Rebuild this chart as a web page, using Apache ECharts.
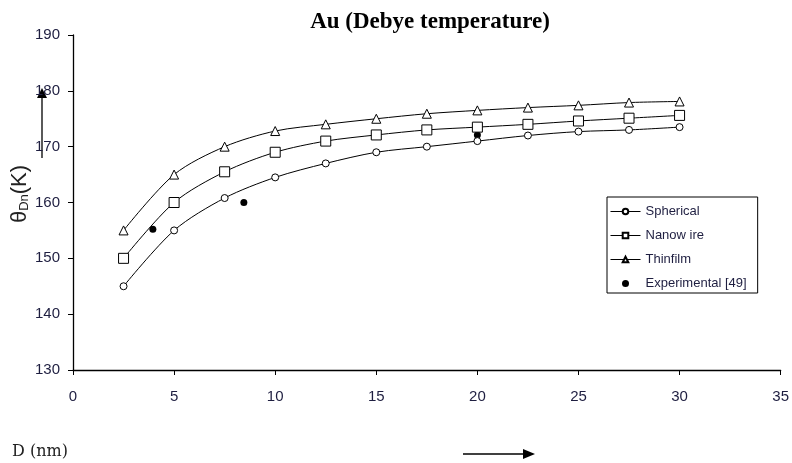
<!DOCTYPE html>
<html><head><meta charset="utf-8">
<script src="https://cdn.jsdelivr.net/npm/echarts@6/dist/echarts.min.js"></script>
<style>html,body{margin:0;padding:0;background:#fff}#c{width:792px;height:463px}</style>
</head><body><div id="c"></div>
<script>
const xValues = [2.5, 5, 7.5, 10, 12.5, 15, 17.5, 20, 22.5, 25, 27.5, 30];
const spherical = [145, 155, 160.8, 164.5, 167, 169, 170, 171, 172, 172.7, 173, 173.5];
const nanowire  = [150, 160, 165.5, 169, 171, 172.1, 173, 173.5, 174, 174.6, 175.1, 175.6];
const thinfilm  = [155, 165, 170, 172.8, 174, 175, 175.9, 176.5, 177, 177.4, 177.9, 178.1];
const experimentalX = [3.95, 8.45, 20];
const experimentalY = [155.2, 160, 172.1];
const seriesNames = ['Spherical', 'Nanow ire', 'Thinfilm', 'Experimental [49]'];

const pair = (xs, ys) => xs.map((x, i) => [x, ys[i]]);
const lineStyle = { color: '#000', width: 1 };
const markStyle = { color: '#fff', borderColor: '#000', borderWidth: 1 };
const txt = '#1e1e40';

const chart = echarts.init(document.getElementById('c'));
chart.setOption({
  animation: false,
  backgroundColor: '#fff',
  title: {
    text: 'Au (Debye temperature)', left: 425, top: 6, textAlign: 'center',
    textStyle: { fontFamily: 'Liberation Serif', fontWeight: 'bold', fontSize: 23, color: '#000' }
  },
  grid: { left: 73, right: 11, top: 35, bottom: 93 },
  xAxis: {
    type: 'value', min: 0, max: 35, interval: 5,
    axisLine: { lineStyle: { color: '#000', width: 1.3 } },
    axisTick: { show: true, length: 5, lineStyle: { color: '#000' } },
    axisLabel: { fontFamily: 'Liberation Sans', fontSize: 15, color: txt, margin: 19 },
    splitLine: { show: false }
  },
  yAxis: {
    type: 'value', min: 130, max: 190, interval: 10,
    axisLine: { show: true, lineStyle: { color: '#000', width: 1.3 } },
    axisTick: { show: true, length: 5, lineStyle: { color: '#000' } },
    axisLabel: { fontFamily: 'Liberation Sans', fontSize: 15, color: txt, margin: 13 },
    splitLine: { show: false }
  },
  legend: {
    orient: 'vertical', left: 607, top: 197,
    itemGap: 9, itemWidth: 30, itemHeight: 7,
    padding: [7, 11, 2, 3],
    borderColor: '#000', borderWidth: 1, backgroundColor: '#fff',
    lineStyle: { width: 1, color: '#000' },
    textStyle: { fontFamily: 'Liberation Sans', fontSize: 13, color: txt, lineHeight: 15 },
    data: seriesNames
  },
  series: [
    { name: seriesNames[0], type: 'line', smooth: 0.3, data: pair(xValues, spherical),
      symbol: 'circle', symbolSize: 7, lineStyle, itemStyle: markStyle },
    { name: seriesNames[1], type: 'line', smooth: 0.3, data: pair(xValues, nanowire),
      symbol: 'rect', symbolSize: 10, lineStyle, itemStyle: markStyle },
    { name: seriesNames[2], type: 'line', smooth: 0.3, data: pair(xValues, thinfilm),
      symbol: 'triangle', symbolSize: 9, lineStyle, itemStyle: markStyle },
    { name: seriesNames[3], type: 'scatter', data: pair(experimentalX, experimentalY),
      symbol: 'circle', symbolSize: 7, itemStyle: { color: '#000', opacity: 1 } }
  ],
  graphic: [
    { type: 'text', x: 20, y: 194, rotation: Math.PI / 2,
      style: { text: '{t|θ}{s|Dn}{t|(K)}', align: 'center', verticalAlign: 'middle', rich: {
        t: { fontFamily: 'Liberation Sans', fontSize: 22, fill: '#222' },
        s: { fontFamily: 'Liberation Sans', fontSize: 13, fill: '#222', verticalAlign: 'bottom', padding: [8, 0, 0, 0] } } } },
    { type: 'line', shape: { x1: 42, y1: 158, x2: 42, y2: 98 }, style: { stroke: '#000', lineWidth: 1.3 } },
    { type: 'polygon', shape: { points: [[42, 88], [37, 98], [47, 98]] }, style: { fill: '#000' } },
    { type: 'line', shape: { x1: 463, y1: 454, x2: 524, y2: 454 }, style: { stroke: '#000', lineWidth: 1.3 } },
    { type: 'polygon', shape: { points: [[535, 454], [523, 449], [523, 459]] }, style: { fill: '#000' } },
    { type: 'text', left: 12, top: 444,
      style: { text: 'D (nm)', fontFamily: 'DejaVu Serif', fontSize: 16, fill: '#222' } }
  ]
});
</script></body></html>
